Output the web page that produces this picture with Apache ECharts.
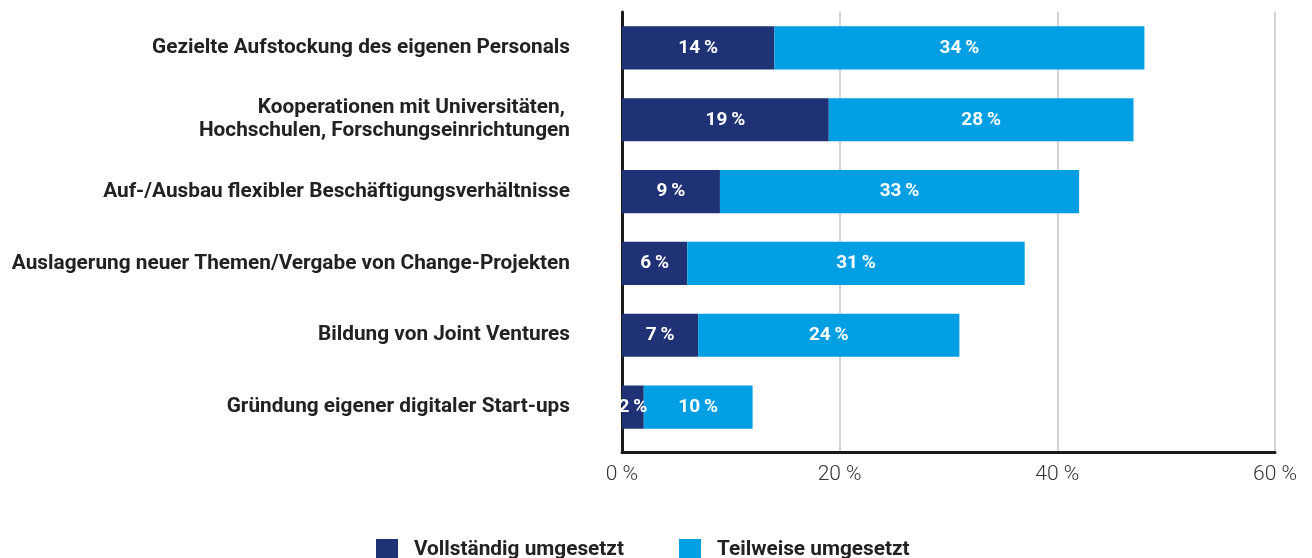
<!DOCTYPE html>
<html>
<head>
<meta charset="utf-8">
<script src="https://cdn.jsdelivr.net/npm/echarts@6/dist/echarts.min.js"></script>
<style>
  html, body { margin: 0; padding: 0; background: #fff; }
  #chart { width: 1312px; height: 558px; }
</style>
</head>
<body>
<div id="chart"></div>
<script>
const categories = [
  "Gezielte Aufstockung des eigenen Personals",
  "Kooperationen mit Universitäten, \nHochschulen, Forschungseinrichtungen",
  "Auf-/Ausbau flexibler Beschäftigungsverhältnisse",
  "Auslagerung neuer Themen/Vergabe von Change-Projekten",
  "Bildung von Joint Ventures",
  "Gründung eigener digitaler Start-ups"
];
const vollstaendig = [14, 19, 9, 6, 7, 2];
const teilweise = [34, 28, 33, 31, 24, 10];
const seriesNames = ["Vollständig umgesetzt", "Teilweise umgesetzt"];
const xTicks = [0, 20, 40, 60];

const fonte = "Roboto, 'Open Sans', sans-serif";
const navy = "#1f3275";
const azul = "#009fe3";

const chart = echarts.init(document.getElementById("chart"));

function rotuloBarra() {
  return {
    show: true,
    position: "inside",
    color: "#fff",
    fontFamily: fonte,
    fontWeight: "bold",
    fontSize: 19,
    formatter: "{c}\u2009%"
  };
}

const option = {
  animation: false,
  textStyle: { fontFamily: fonte },
  grid: [
    // barras
    { left: 622, right: 37, top: 12, height: 431 },
    // eixos e linhas de grade
    { left: 622, right: 37, top: 12, bottom: 106 }
  ],
  xAxis: [
    { gridIndex: 0, type: "value", min: 0, max: 60, show: false },
    {
      gridIndex: 1,
      type: "value",
      min: xTicks[0],
      max: xTicks[xTicks.length - 1],
      interval: 20,
      axisLine: { show: true, lineStyle: { color: "#1a1a1a", width: 3 } },
      axisTick: { show: false },
      splitLine: { show: true, lineStyle: { color: "#c4c4c4", width: 1.5 } },
      axisLabel: {
        formatter: "{value} %",
        color: "#333",
        fontWeight: 300,
        fontSize: 21,
        margin: 12
      }
    }
  ],
  yAxis: [
    {
      gridIndex: 0,
      type: "category",
      inverse: true,
      data: categories,
      axisLine: { show: false },
      axisTick: { show: false },
      axisLabel: {
        color: "#222",
        fontWeight: "bold",
        fontSize: 20.8,
        lineHeight: 23,
        align: "right",
        margin: 52
      }
    },
    {
      gridIndex: 1,
      type: "category",
      data: [""],
      axisLine: { show: true, lineStyle: { color: "#1a1a1a", width: 3 } },
      axisTick: { show: false },
      axisLabel: { show: false }
    }
  ],
  legend: {
    left: 371,
    top: 534,
    itemWidth: 22,
    itemHeight: 22,
    itemGap: 55,
    icon: "rect",
    textStyle: { color: "#222", fontWeight: "bold", fontSize: 20.8, padding: [0, 0, 0, 11] },
    data: seriesNames
  },
  series: [
    {
      name: seriesNames[0],
      type: "bar",
      stack: "total",
      xAxisIndex: 0,
      yAxisIndex: 0,
      barWidth: "60%",
      itemStyle: { color: navy },
      label: rotuloBarra(),
      data: vollstaendig
    },
    {
      name: seriesNames[1],
      type: "bar",
      stack: "total",
      xAxisIndex: 0,
      yAxisIndex: 0,
      barWidth: "60%",
      itemStyle: { color: azul },
      label: rotuloBarra(),
      data: teilweise
    }
  ]
};

chart.setOption(option);
</script>
</body>
</html>
